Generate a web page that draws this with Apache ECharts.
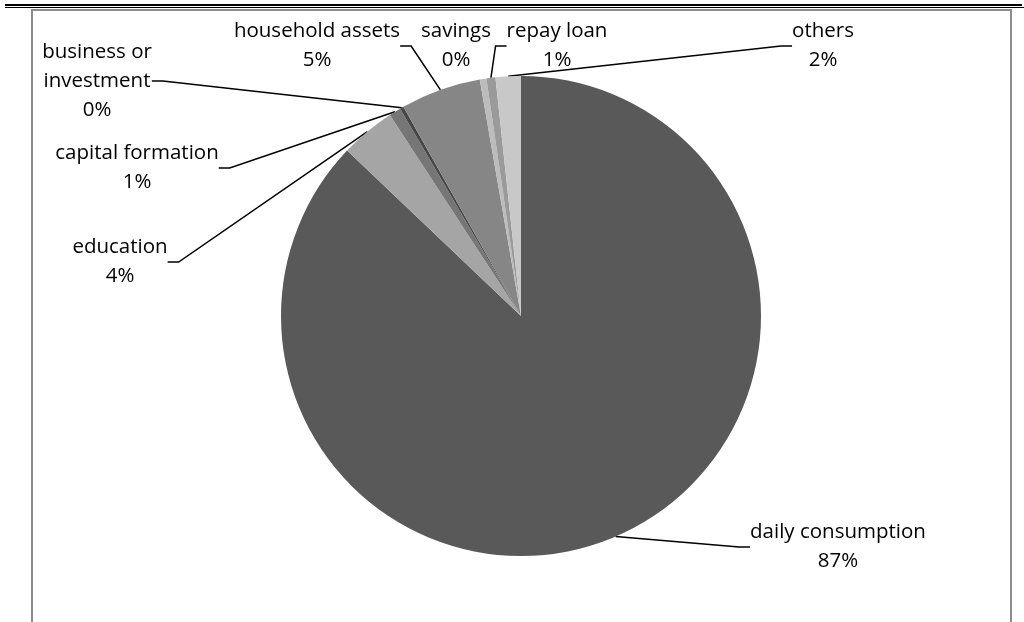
<!DOCTYPE html>
<html>
<head>
<meta charset="utf-8">
<script src="https://cdn.jsdelivr.net/npm/echarts@6/dist/echarts.min.js"></script>
<style>
  html, body { margin: 0; padding: 0; background: #fff; }
  #wrap { position: relative; width: 1024px; height: 622px; overflow: hidden; }
  #chart { position: absolute; left: 0; top: 0; width: 1024px; height: 622px; }
  .rule { position: absolute; pointer-events: none; }
</style>
</head>
<body>
<div id="wrap">
  <div id="chart"></div>
  <div class="rule" style="left:5px; top:4px; width:1017px; height:2px; background:#000"></div>
  <div class="rule" style="left:5px; top:7px; width:1019px; height:1px; background:#000"></div>
  <div class="rule" style="left:31px; top:9px; width:981px; height:2px; background:#8c8c8c"></div>
  <div class="rule" style="left:31px; top:9px; width:2px; height:613px; background:#8c8c8c"></div>
  <div class="rule" style="left:1010px; top:9px; width:2px; height:613px; background:#8c8c8c"></div>
</div>
<script>
// spending categories, clockwise from 12 o'clock
const categories = ['daily consumption', 'education', 'capital formation', 'business or\ninvestment',
  'household assets', 'savings', 'repay loan', 'others']
// share in percent
const shares = [87.1, 3.7, 0.8, 0.25, 5.4, 0.45, 0.6, 1.7]

// grey shades like the excel chart
const colors = ['#595959', '#a5a5a5', '#767676', '#474747', '#868686', '#bcbcbc', '#9a9a9a', '#c8c8c8']
// where each label block sits (centre), excel had them placed by hand
const labelSpots = [[838, 547], [120, 262], [137, 168], [97, 81], [317, 46], [456, 46], [557, 46], [823, 46]]
const noLine = ['savings']

const chart = echarts.init(document.getElementById('chart'))

const option = {
  animation: false,
  series: [{
    type: 'pie',
    center: [521, 316],
    radius: 240,
    startAngle: 90,
    clockwise: true,
    avoidLabelOverlap: false,
    data: categories.map((c, i) => ({
      name: c,
      value: shares[i],
      itemStyle: { color: colors[i] },
      labelLine: { show: noLine.indexOf(c) < 0 }
    })),
    itemStyle: { borderWidth: 0 },
    label: {
      show: true,
      position: 'outside',
      formatter: p => p.name + '\n' + Math.round(p.percent) + '%',
      fontFamily: 'Open Sans',
      fontSize: 20.5,
      lineHeight: 29,
      color: '#000',
      align: 'center'
    },
    labelLine: {
      show: true,
      length: 10,
      length2: 11,
      lineStyle: { color: '#000', width: 1.5 }
    },
    labelLayout: function (params) {
      const s = labelSpots[params.dataIndex]
      return { x: s[0], y: s[1], align: 'center', verticalAlign: 'middle' }
    },
    emphasis: { disabled: true }
  }]
}

chart.setOption(option)
</script>
</body>
</html>
